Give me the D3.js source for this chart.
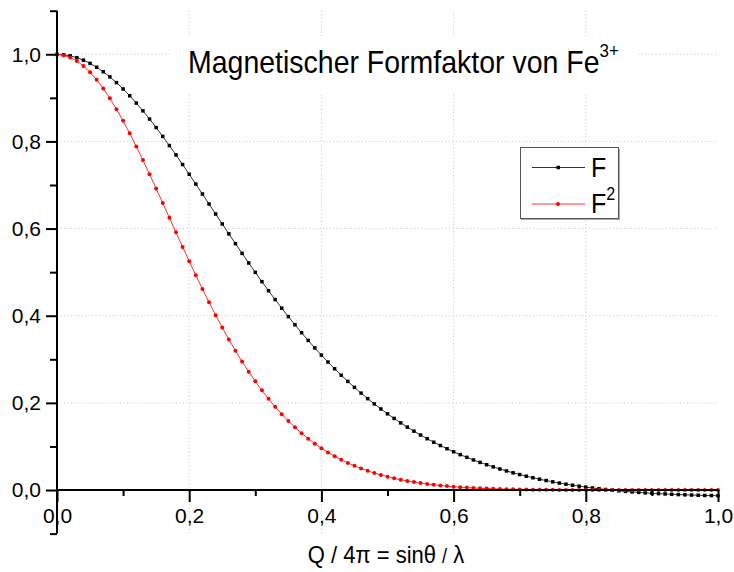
<!DOCTYPE html>
<html>
<head>
<meta charset="utf-8">
<script src="https://cdn.jsdelivr.net/npm/d3@7"></script>
<style>
  body { margin: 0; background: #fff; }
  svg { display: block; font-family: "Liberation Sans", Arial, sans-serif; }
  .grid line { stroke: #c4c4c4; stroke-width: 1; stroke-dasharray: 1,2.5; }
  .axis path, .axis line { stroke: #000; stroke-width: 2; }
  .axis text { font-size: 21px; fill: #000; }
</style>
</head>
<body>
<div id="chart-area"></div>
<script>
const width = 734,
  height = 572;

// Q/4pi = sin(theta)/lambda, sampled every 0.01
const sValues = [
  0.00, 0.01, 0.02, 0.03, 0.04, 0.05, 0.06, 0.07, 0.08, 0.09,
  0.10, 0.11, 0.12, 0.13, 0.14, 0.15, 0.16, 0.17, 0.18, 0.19,
  0.20, 0.21, 0.22, 0.23, 0.24, 0.25, 0.26, 0.27, 0.28, 0.29,
  0.30, 0.31, 0.32, 0.33, 0.34, 0.35, 0.36, 0.37, 0.38, 0.39,
  0.40, 0.41, 0.42, 0.43, 0.44, 0.45, 0.46, 0.47, 0.48, 0.49,
  0.50, 0.51, 0.52, 0.53, 0.54, 0.55, 0.56, 0.57, 0.58, 0.59,
  0.60, 0.61, 0.62, 0.63, 0.64, 0.65, 0.66, 0.67, 0.68, 0.69,
  0.70, 0.71, 0.72, 0.73, 0.74, 0.75, 0.76, 0.77, 0.78, 0.79,
  0.80, 0.81, 0.82, 0.83, 0.84, 0.85, 0.86, 0.87, 0.88, 0.89,
  0.90, 0.91, 0.92, 0.93, 0.94, 0.95, 0.96, 0.97, 0.98, 0.99, 1.00
];

// F (form factor)
const fValues = [
  0.9997, 0.9989, 0.9964, 0.9922, 0.9865, 0.9791, 0.9702, 0.9599, 0.9481, 0.9349,
  0.9204, 0.9048, 0.8880, 0.8702, 0.8514, 0.8318, 0.8115, 0.7905, 0.7690, 0.7470,
  0.7247, 0.7021, 0.6793, 0.6564, 0.6335, 0.6106, 0.5879, 0.5653, 0.5431, 0.5211,
  0.4995, 0.4782, 0.4574, 0.4371, 0.4173, 0.3980, 0.3792, 0.3610, 0.3433, 0.3262,
  0.3097, 0.2937, 0.2783, 0.2635, 0.2493, 0.2356, 0.2224, 0.2097, 0.1976, 0.1860,
  0.1749, 0.1643, 0.1541, 0.1444, 0.1351, 0.1262, 0.1178, 0.1097, 0.1021, 0.0948,
  0.0878, 0.0812, 0.0750, 0.0690, 0.0634, 0.0581, 0.0531, 0.0483, 0.0438, 0.0395,
  0.0355, 0.0317, 0.0282, 0.0248, 0.0217, 0.0188, 0.0160, 0.0134, 0.0110, 0.0088,
  0.0067, 0.0047, 0.0029, 0.0012, -0.0003, -0.0018, -0.0031, -0.0043, -0.0054, -0.0065,
  -0.0074, -0.0083, -0.0090, -0.0098, -0.0104, -0.0110, -0.0115, -0.0120, -0.0124, -0.0127, -0.0131
];

// F^2
const f2Values = [
  0.9994, 0.9977, 0.9928, 0.9845, 0.9731, 0.9587, 0.9414, 0.9213, 0.8988, 0.8740,
  0.8472, 0.8186, 0.7885, 0.7572, 0.7249, 0.6919, 0.6585, 0.6249, 0.5914, 0.5580,
  0.5252, 0.4929, 0.4614, 0.4308, 0.4013, 0.3728, 0.3456, 0.3196, 0.2949, 0.2715,
  0.2495, 0.2287, 0.2093, 0.1911, 0.1741, 0.1584, 0.1438, 0.1303, 0.1179, 0.1064,
  0.0959, 0.0863, 0.0775, 0.0695, 0.0621, 0.0555, 0.0495, 0.0440, 0.0391, 0.0346,
  0.0306, 0.0270, 0.0237, 0.0208, 0.0182, 0.0159, 0.0139, 0.0120, 0.0104, 0.0090,
  0.0077, 0.0066, 0.0056, 0.0048, 0.0040, 0.0034, 0.0028, 0.0023, 0.0019, 0.0016,
  0.0013, 0.0010, 0.0008, 0.0006, 0.0005, 0.0004, 0.0003, 0.0002, 0.0001, 0.0001,
  0.0000, 0.0000, 0.0000, 0.0000, 0.0000, 0.0000, 0.0000, 0.0000, 0.0000, 0.0000,
  0.0001, 0.0001, 0.0001, 0.0001, 0.0001, 0.0001, 0.0001, 0.0001, 0.0002, 0.0002, 0.0002
];

const xMajorTicks = [0, 0.2, 0.4, 0.6, 0.8, 1.0];
const xMinorTicks = [0.1, 0.3, 0.5, 0.7, 0.9];
const yMajorTicks = [0, 0.2, 0.4, 0.6, 0.8, 1.0];
const yMinorTicks = [-0.1, 0.1, 0.3, 0.5, 0.7, 0.9, 1.1];
const gridX = [0.2, 0.4, 0.6, 0.8];
const gridY = [0.2, 0.4, 0.6, 0.8, 1.0];

const x = d3.scaleLinear().domain([0, 1]).range([57, 718]);
const y = d3.scaleLinear().domain([-0.1, 1.1]).range([533.6, 10.7]);

const comma = d => d3.format(".1f")(d).replace(".", ",");

const svg = d3.select("#chart-area").append("svg")
  .attr("width", width)
  .attr("height", height);

// dotted grid
const grid = svg.append("g").attr("class", "grid");
grid.selectAll(".gx").data(gridX).enter().append("line")
  .attr("x1", d => x(d)).attr("x2", d => x(d))
  .attr("y1", y(1.1)).attr("y2", y(-0.1));
grid.selectAll(".gy").data(gridY).enter().append("line")
  .attr("x1", x(0)).attr("x2", x(1))
  .attr("y1", d => y(d)).attr("y2", d => y(d));

// title (white box hides grid)
svg.append("rect")
  .attr("x", 172).attr("y", 36).attr("width", 465).attr("height", 58)
  .attr("fill", "#fff");
const title = svg.append("text")
  .attr("transform", "translate(188,73) scale(1,1.1)")
  .attr("font-size", 28.5)
  .attr("fill", "#000");
title.append("tspan").text("Magnetischer Formfaktor von Fe");
title.append("tspan").attr("font-size", 17).attr("dy", -15).text("3+");

// curves
const lineF = d3.line()
  .x((d, i) => x(sValues[i]))
  .y(d => y(d));

svg.append("path")
  .datum(fValues)
  .attr("fill", "none")
  .attr("stroke", "#333")
  .attr("stroke-width", 1)
  .attr("d", lineF);

svg.append("path")
  .datum(f2Values)
  .attr("fill", "none")
  .attr("stroke", "#ff3030")
  .attr("stroke-width", 1)
  .attr("d", lineF);

svg.append("g").selectAll("rect").data(fValues).enter().append("rect")
  .attr("x", (d, i) => x(sValues[i]) - 1.75)
  .attr("y", d => y(d) - 1.75)
  .attr("width", 3.5).attr("height", 3.5)
  .attr("fill", "#000");

svg.append("g").selectAll("circle").data(f2Values).enter().append("circle")
  .attr("cx", (d, i) => x(sValues[i]))
  .attr("cy", d => y(d))
  .attr("r", 2)
  .attr("fill", "#ff0000");

// axes
const yAxisG = svg.append("g").attr("class", "axis")
  .attr("transform", `translate(${x(0)},0)`);
yAxisG.call(d3.axisLeft(y).tickValues(yMajorTicks).tickSize(11).tickPadding(5).tickFormat(comma));
yAxisG.select(".domain").attr("d", `M0,${y(1.1)}V${y(-0.1)}`);
svg.append("g").attr("class", "axis")
  .attr("transform", `translate(${x(0)},0)`)
  .call(d3.axisLeft(y).tickValues(yMinorTicks).tickSize(7).tickFormat(""))
  .select(".domain").remove();

const xAxisG = svg.append("g").attr("class", "axis")
  .attr("transform", `translate(0,${y(0)})`);
xAxisG.call(d3.axisBottom(x).tickValues(xMajorTicks).tickSize(12).tickPadding(6).tickFormat(comma));
xAxisG.select(".domain").attr("d", `M${x(0)},0H${x(1)}`);
svg.append("g").attr("class", "axis")
  .attr("transform", `translate(0,${y(0)})`)
  .call(d3.axisBottom(x).tickValues(xMinorTicks).tickSize(6).tickFormat(""))
  .select(".domain").remove();

// x label
const xl = svg.append("text")
  .attr("transform", "translate(386,563) scale(1,1.08)")
  .attr("text-anchor", "middle")
  .attr("font-size", 22)
  .attr("fill", "#000");
xl.append("tspan").text("Q / 4π = sinθ ");
xl.append("tspan").attr("font-size", 18).text("/");
xl.append("tspan").text(" λ");

// legend
const lg = svg.append("g");
lg.append("rect")
  .attr("x", 521).attr("y", 149).attr("width", 99).attr("height", 71)
  .attr("fill", "#aaa");
lg.append("rect")
  .attr("x", 520.5).attr("y", 147.5).attr("width", 98).attr("height", 71)
  .attr("fill", "#fff").attr("stroke", "#555").attr("stroke-width", 1);
const legendItems = [
  { name: "F", sup: "", color: "#333", mark: "#000", shape: "square", yy: 167.5 },
  { name: "F", sup: "2", color: "#ff3030", mark: "#ff0000", shape: "circle", yy: 204 }
];
legendItems.forEach(it => {
  lg.append("line")
    .attr("x1", 532).attr("x2", 585).attr("y1", it.yy).attr("y2", it.yy)
    .attr("stroke", it.color).attr("stroke-width", 1);
  if (it.shape === "square") {
    lg.append("rect").attr("x", 556.5).attr("y", it.yy - 1.75)
      .attr("width", 3.5).attr("height", 3.5).attr("fill", it.mark);
  } else {
    lg.append("circle").attr("cx", 558).attr("cy", it.yy).attr("r", 2).attr("fill", it.mark);
  }
  const t = lg.append("text").attr("transform", `translate(591,${it.yy + 9}) scale(1,1.1)`)
    .attr("font-size", 25).attr("fill", "#000").text(it.name);
  if (it.sup) t.append("tspan").attr("font-size", 16).attr("dy", -12).text(it.sup);
});
</script>
</body>
</html>
